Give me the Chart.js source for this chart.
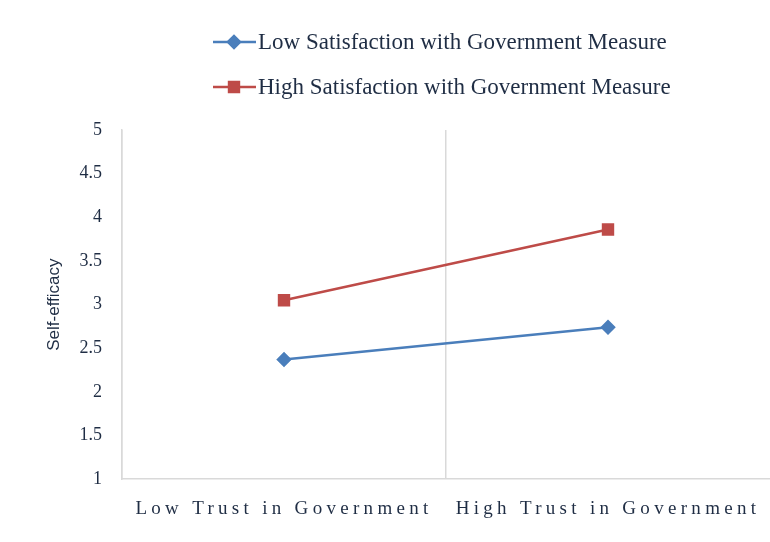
<!DOCTYPE html>
<html>
<head>
    <title>Self-efficacy</title>
    <script src="https://cdn.jsdelivr.net/npm/chart.js"></script>
    <style>
        body { margin: 0; background: #fff; overflow: hidden; }
        #wrap { width: 770px; height: 542px; }
    </style>
</head>
<body>
<div id="wrap"><canvas id="effChart"></canvas></div>

<script>
    var categories = ['Low Trust in Government', 'High Trust in Government'];
    var seriesNames = ['Low Satisfaction with Government Measure', 'High Satisfaction with Government Measure'];
    var yTicks = [1, 1.5, 2, 2.5, 3, 3.5, 4, 4.5, 5];
    var lowSatisfaction = [2.37, 2.74];
    var highSatisfaction = [3.05, 3.86];

    // legend drawn by hand: line + marker + text, like the original
    // also spreads the letters of the category labels
    var serifLegend = {
        id: 'serifLegend',
        afterLayout: function(chart) {
            var sx = chart.scales.x;
            if (sx._spaced) return;
            var orig = sx.drawLabels.bind(sx);
            sx.drawLabels = function(area) {
                chart.ctx.save();
                chart.ctx.letterSpacing = '4.3px';
                orig(area);
                chart.ctx.restore();
            };
            sx._spaced = true;
        },
        afterDraw: function(chart) {
            var ctx = chart.ctx;
            ctx.save();
            ctx.font = '23px "Liberation Serif"';
            ctx.textBaseline = 'middle';
            var rows = [42, 87];
            chart.data.datasets.forEach(function(ds, i) {
                var y = rows[i];
                ctx.strokeStyle = ds.borderColor;
                ctx.lineWidth = 2.5;
                ctx.beginPath();
                ctx.moveTo(213, y);
                ctx.lineTo(256, y);
                ctx.stroke();
                Chart.helpers.drawPoint(ctx, {
                    pointStyle: ds.pointStyle,
                    radius: ds.pointRadius,
                    borderWidth: 1
                }, 234, y);
                ctx.fillStyle = ds.pointBackgroundColor;
                ctx.fill();
                ctx.fillStyle = '#1f2d44';
                ctx.fillText(ds.label, 258, y + 1);
            });
            ctx.restore();
        }
    };

    var ctx = document.getElementById('effChart').getContext('2d');
    var effChart = new Chart(ctx, {
        type: 'line',
        data: {
            labels: categories,
            datasets: [{
                label: seriesNames[0],
                data: lowSatisfaction,
                borderColor: '#4a7ebb',
                backgroundColor: '#4a7ebb',
                pointBackgroundColor: '#4a7ebb',
                pointBorderColor: '#4a7ebb',
                pointStyle: 'rectRot',
                pointRadius: 6,
                borderWidth: 2.5
            }, {
                label: seriesNames[1],
                data: highSatisfaction,
                borderColor: '#be4b48',
                backgroundColor: '#be4b48',
                pointBackgroundColor: '#be4b48',
                pointBorderColor: '#be4b48',
                pointStyle: 'rect',
                pointRadius: 7,
                borderWidth: 2.5
            }]
        },
        options: {
            responsive: true,
            maintainAspectRatio: false,
            animation: false,
            layout: {
                autoPadding: false,
                padding: { top: 130, right: 0, left: 44, bottom: 4 }
            },
            plugins: {
                legend: { display: false },
                tooltip: { enabled: false }
            },
            scales: {
                x: {
                    offset: true,
                    afterFit: function(scale) {
                        scale.paddingLeft = 0;
                        scale.paddingRight = 0;
                    },
                    grid: {
                        offset: true,
                        drawTicks: false,
                        // the extra line on the far right has no tick context: hide it
                        color: function(c) {
                            return c.type === 'tick' ? '#d9d9d9' : 'rgba(0,0,0,0)';
                        },
                        lineWidth: 1.5
                    },
                    border: { color: '#d9d9d9', width: 1.5 },
                    ticks: {
                        color: '#1f2d44',
                        padding: 18,
                        font: { family: 'Liberation Serif', size: 19 }
                    }
                },
                y: {
                    min: 1,
                    max: 5,
                    afterBuildTicks: function(scale) {
                        scale.ticks = yTicks.map(function(v) { return { value: v }; });
                    },
                    afterFit: function(scale) {
                        scale.width = 78;
                    },
                    ticks: {
                        color: '#1f2d44',
                        padding: 20,
                        font: { family: 'Liberation Serif', size: 18 },
                        callback: function(v) { return String(v); }
                    },
                    grid: { display: false, drawTicks: false },
                    border: { color: '#d9d9d9', width: 1.5 },
                    title: {
                        display: true,
                        text: 'Self-efficacy',
                        color: '#1f2d44',
                        padding: { top: 0, bottom: 15 },
                        font: { family: 'Liberation Sans', size: 17 }
                    }
                }
            }
        },
        plugins: [serifLegend]
    });
</script>
</body>
</html>
